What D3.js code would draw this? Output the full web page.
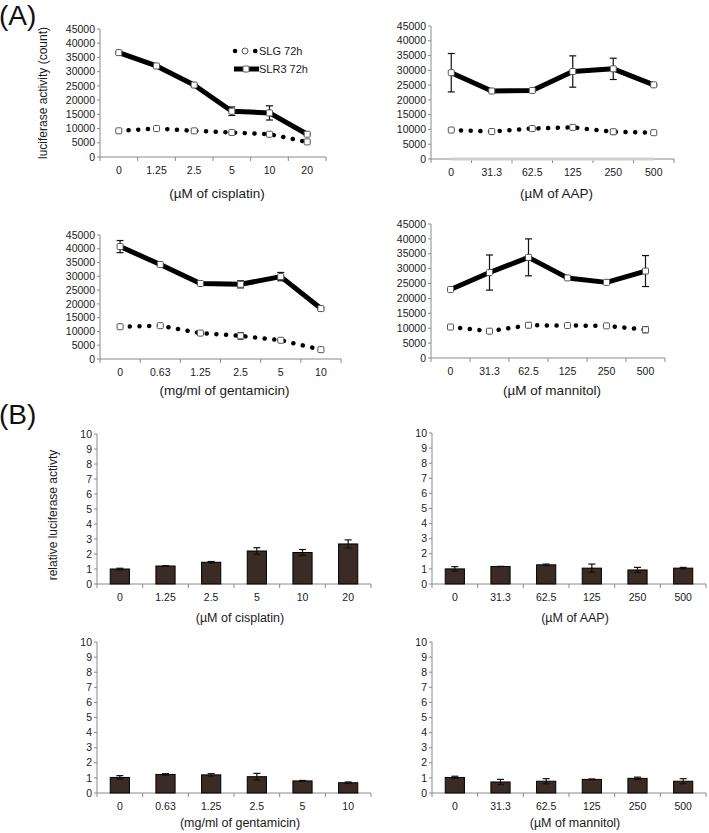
<!DOCTYPE html>
<html><head><meta charset="utf-8">
<script src="https://cdn.jsdelivr.net/npm/d3@7"></script>
<style>body{margin:0;background:#fff} svg{font-family:"Liberation Sans",Arial,Helvetica,sans-serif}</style>
</head><body><svg id="c" width="709" height="833"></svg>
<script>
// ---------- data ----------
const cisplatinDoses = ["0","1.25","2.5","5","10","20"];
const aapDoses = ["0","31.3","62.5","125","250","500"];
const gentamicinDoses = ["0","0.63","1.25","2.5","5","10"];
const mannitolDoses = ["0","31.3","62.5","125","250","500"];

const countTicks = [0,5000,10000,15000,20000,25000,30000,35000,40000,45000];
const relTicks = [0,1,2,3,4,5,6,7,8,9,10];

// (A) luciferase counts
const cisSLR3 = [36700, 32000, 25300, 16100, 15500, 8000];
const cisSLR3Err = [400, 300, 300, 1500, 2500, 300];
const cisSLG = [9200, 10000, 9200, 8600, 8000, 5300];
const cisSLGErr = [500, 300, 300, 300, 300, 300];

const aapSLR3 = [29200, 23000, 23200, 29600, 30500, 25100];
const aapSLR3Err = [6500, 300, 400, 5300, 3600, 300];
const aapSLG = [9800, 9300, 10300, 10700, 9200, 8900];
const aapSLGErr = [300, 300, 300, 500, 800, 300];
const aapBaseline = [0, 0, 0, 0, 0, 0];

const genSLR3 = [40800, 34300, 27400, 27100, 29900, 18300];
const genSLR3Err = [2200, 300, 300, 1300, 1500, 400];
const genSLG = [11700, 12100, 9400, 8400, 6800, 3400];
const genSLGErr = [400, 300, 300, 1200, 300, 300];

const manSLR3 = [23000, 28700, 33800, 26900, 25400, 29200];
const manSLR3Err = [300, 5900, 6200, 400, 300, 5200];
const manSLG = [10400, 9000, 11000, 10900, 10800, 9500];
const manSLGErr = [300, 300, 800, 300, 300, 1000];

// (B) relative luciferase activity
const cisRel = [1.0, 1.2, 1.45, 2.2, 2.1, 2.67];
const cisRelErr = [0.05, 0.02, 0.05, 0.22, 0.2, 0.27];
const aapRel = [1.0, 1.16, 1.27, 1.05, 0.93, 1.05];
const aapRelErr = [0.15, 0.01, 0.05, 0.27, 0.17, 0.05];
const genRel = [1.03, 1.23, 1.2, 1.08, 0.8, 0.68];
const genRelErr = [0.12, 0.05, 0.08, 0.22, 0.03, 0.05];
const manRel = [1.03, 0.73, 0.78, 0.9, 0.97, 0.78];
const manRelErr = [0.08, 0.17, 0.17, 0.03, 0.08, 0.17];

const titles = {
  cis: "(\u00b5M of cisplatin)", aap: "(\u00b5M of AAP)",
  gen: "(mg/ml of gentamicin)", man: "(\u00b5M of mannitol)"
};

// ---------- drawing ----------
const svg = d3.select("#c");
const AX = "#8a8a8a";

function axes(g, x, y, ticks, fmt, cats) {
  const [x0, x1] = x.range();
  const [yb, yt] = y.range();
  g.append("line").attr("x1", x0).attr("x2", x0).attr("y1", yb).attr("y2", yt)
    .attr("stroke", AX).attr("stroke-width", 1);
  g.append("line").attr("x1", x0).attr("x2", x1).attr("y1", yb).attr("y2", yb)
    .attr("stroke", AX).attr("stroke-width", 1);
  ticks.forEach(t => {
    g.append("line").attr("x1", x0 - 3).attr("x2", x0).attr("y1", y(t)).attr("y2", y(t)).attr("stroke", AX);
    g.append("text").attr("x", x0 - 5).attr("y", y(t)).attr("dy", "0.35em")
      .attr("text-anchor", "end").attr("font-size", 10.5).attr("fill", "#1a1a1a").text(fmt(t));
  });
  const bounds = cats.map(c => x(c)).concat([x1]);
  bounds.forEach(b => {
    g.append("line").attr("x1", b).attr("x2", b).attr("y1", yb).attr("y2", yb + 4).attr("stroke", AX);
  });
  cats.forEach(c => {
    g.append("text").attr("x", x(c) + x.bandwidth() / 2).attr("y", yb + 13).attr("dy", "0.35em")
      .attr("text-anchor", "middle").attr("font-size", 10.5).attr("fill", "#1a1a1a").text(c);
  });
}

function errBars(g, x, y, cats, vals, errs, cap) {
  cats.forEach((c, i) => {
    const cx = x(c) + x.bandwidth() / 2;
    const lo = y(vals[i] - errs[i]), hi = y(vals[i] + errs[i]);
    g.append("line").attr("x1", cx).attr("x2", cx).attr("y1", lo).attr("y2", hi).attr("stroke", "#111").attr("stroke-width", 1.2);
    [lo, hi].forEach(yy => g.append("line").attr("x1", cx - cap).attr("x2", cx + cap).attr("y1", yy).attr("y2", yy)
      .attr("stroke", "#111").attr("stroke-width", 1.2));
  });
}

function marker(g, cx, cy) {
  g.append("rect").attr("x", cx - 3).attr("y", cy - 3).attr("width", 6).attr("height", 6)
    .attr("rx", 1).attr("fill", "#fff").attr("stroke", "#555").attr("stroke-width", 1);
}

function linePanel(cfg) {
  const g = svg.append("g");
  const x = d3.scaleBand().domain(cfg.cats).range(cfg.xr);
  const y = d3.scaleLinear().domain([0, 45000]).range(cfg.yr);
  axes(g, x, y, countTicks, d => String(d), cfg.cats);
  const cx = c => x(c) + x.bandwidth() / 2;
  const line = d3.line().x((d, i) => cx(cfg.cats[i])).y(d => y(d));
  if (cfg.base) {
    g.append("path").attr("d", line(cfg.base)).attr("fill", "none")
      .attr("stroke", "#d0d0d0").attr("stroke-width", 3);
  }
  // SLG dotted
  g.append("path").attr("d", line(cfg.slg)).attr("fill", "none").attr("stroke", "#000")
    .attr("stroke-width", 4.5).attr("stroke-linecap", "round").attr("stroke-dasharray", "0.1 9.6");
  errBars(g, x, y, cfg.cats, cfg.slg, cfg.slgErr, 3);
  cfg.cats.forEach((c, i) => marker(g, cx(c), y(cfg.slg[i])));
  // SLR3 thick
  g.append("path").attr("d", line(cfg.slr)).attr("fill", "none").attr("stroke", "#000")
    .attr("stroke-width", 5).attr("stroke-linejoin", "round");
  errBars(g, x, y, cfg.cats, cfg.slr, cfg.slrErr, 3.5);
  cfg.cats.forEach((c, i) => marker(g, cx(c), y(cfg.slr[i])));
  g.append("text").attr("x", (cfg.xr[0] + cfg.xr[1]) / 2 + 4).attr("y", cfg.ty).attr("dy", "0.35em")
    .attr("text-anchor", "middle").attr("font-size", 13.5).attr("fill", "#1a1a1a").text(cfg.title);
  return g;
}

function barPanel(cfg) {
  const g = svg.append("g");
  const x = d3.scaleBand().domain(cfg.cats).range(cfg.xr).paddingInner(0.58).paddingOuter(0.29);
  const xb = d3.scaleBand().domain(cfg.cats).range(cfg.xr);
  const y = d3.scaleLinear().domain([0, 10]).range(cfg.yr);
  axes(g, xb, y, relTicks, d => String(d), cfg.cats);
  cfg.cats.forEach((c, i) => {
    const bx = xb(c) + xb.bandwidth() / 2 - x.bandwidth() / 2;
    g.append("rect").attr("x", bx).attr("y", y(cfg.vals[i])).attr("width", x.bandwidth())
      .attr("height", y(0) - y(cfg.vals[i])).attr("fill", "#3b2b26").attr("stroke", "#000").attr("stroke-width", 1);
  });
  errBars(g, xb, y, cfg.cats, cfg.vals, cfg.errs, 3.5);
  g.append("text").attr("x", (cfg.xr[0] + cfg.xr[1]) / 2 + 6).attr("y", cfg.ty).attr("dy", "0.35em")
    .attr("text-anchor", "middle").attr("font-size", cfg.tfs).attr("fill", "#1a1a1a").text(cfg.title);
}

linePanel({cats: cisplatinDoses, xr: [100, 326], yr: [157, 29], slr: cisSLR3, slrErr: cisSLR3Err,
  slg: cisSLG, slgErr: cisSLGErr, ty: 193, title: titles.cis});
linePanel({cats: aapDoses, xr: [431, 674], yr: [159, 26], slr: aapSLR3, slrErr: aapSLR3Err,
  slg: aapSLG, slgErr: aapSLGErr, base: aapBaseline, ty: 193, title: titles.aap});
linePanel({cats: gentamicinDoses, xr: [100, 341], yr: [359, 235], slr: genSLR3, slrErr: genSLR3Err,
  slg: genSLG, slgErr: genSLGErr, ty: 390, title: titles.gen});
linePanel({cats: mannitolDoses, xr: [431, 665], yr: [358, 224], slr: manSLR3, slrErr: manSLR3Err,
  slg: manSLG, slgErr: manSLGErr, ty: 390, title: titles.man});

barPanel({cats: cisplatinDoses, xr: [97, 371], yr: [584, 434], vals: cisRel, errs: cisRelErr, ty: 618, tfs: 12.5, title: titles.cis});
barPanel({cats: aapDoses, xr: [432, 706], yr: [584, 433], vals: aapRel, errs: aapRelErr, ty: 618, tfs: 12.5, title: titles.aap});
barPanel({cats: gentamicinDoses, xr: [97, 371], yr: [793, 642], vals: genRel, errs: genRelErr, ty: 823, tfs: 12.5, title: titles.gen});
barPanel({cats: mannitolDoses, xr: [432, 706], yr: [793, 642], vals: manRel, errs: manRelErr, ty: 823, tfs: 12.5, title: titles.man});

// legend (panel A, top-left)
const lg = svg.append("g");
lg.append("line").attr("x1", 235).attr("x2", 258).attr("y1", 51).attr("y2", 51).attr("stroke", "#000")
  .attr("stroke-width", 4.5).attr("stroke-linecap", "round").attr("stroke-dasharray", "0.1 10");
lg.append("circle").attr("cx", 245).attr("cy", 51).attr("r", 3).attr("fill", "#fff").attr("stroke", "#555");
lg.append("text").attr("x", 259).attr("y", 51).attr("dy", "0.35em").attr("font-size", 11).attr("fill", "#1a1a1a").text("SLG 72h");
lg.append("line").attr("x1", 234).attr("x2", 259).attr("y1", 69).attr("y2", 69).attr("stroke", "#000").attr("stroke-width", 5);
marker(lg, 246, 69);
lg.append("text").attr("x", 259).attr("y", 69).attr("dy", "0.35em").attr("font-size", 11).attr("fill", "#1a1a1a").text("SLR3 72h");

// y-axis titles
svg.append("text").attr("transform", "translate(43,93) rotate(-90)").attr("dy", "0.35em")
  .attr("text-anchor", "middle").attr("font-size", 12).attr("fill", "#1a1a1a").text("luciferase activity (count)");
svg.append("text").attr("transform", "translate(53,515) rotate(-90)").attr("dy", "0.35em")
  .attr("text-anchor", "middle").attr("font-size", 12).attr("fill", "#1a1a1a").text("relative luciferase activty");

// panel letters
svg.append("text").attr("x", -1).attr("y", 25).attr("font-size", 28).attr("fill", "#111").text("(A)");
svg.append("text").attr("x", -1).attr("y", 424).attr("font-size", 28).attr("fill", "#111").text("(B)");
</script></body></html>
